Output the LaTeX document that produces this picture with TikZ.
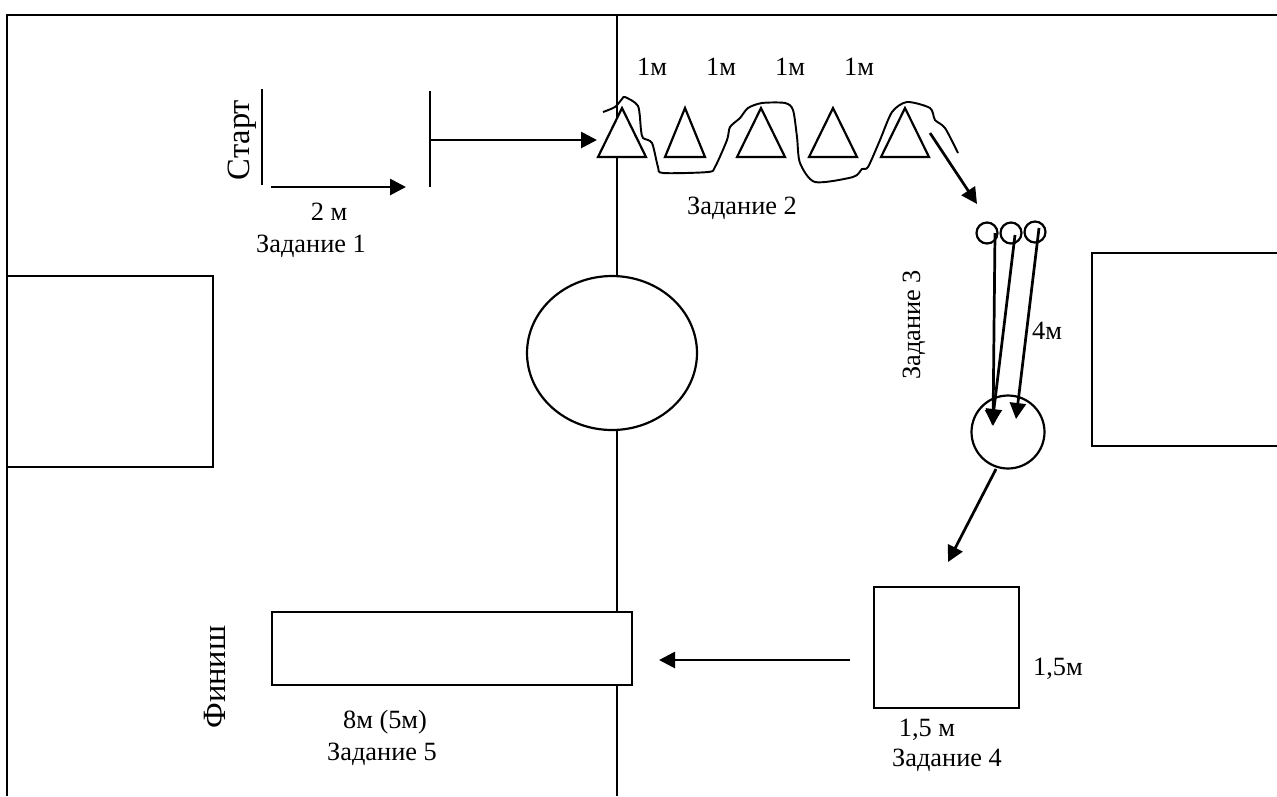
\documentclass[tikz,border=0pt]{standalone}
\usepackage{fontspec}
\setmainfont{Liberation Serif}
\usetikzlibrary{arrows.meta,shapes.geometric}

\begin{document}
\begin{tikzpicture}[
		x=0.02cm, y=-0.02cm,
		line width=1.25pt,
		label/.style={font=\fontsize{15}{17}\selectfont, inner sep=0pt},
		biglabel/.style={font=\fontsize{18.5}{21}\selectfont, inner sep=0pt, rotate=90},
		box/.style={draw, fill=white, inner sep=0pt, outer sep=0pt},
		disc/.style={draw, ellipse, fill=white, inner sep=0pt, outer sep=0pt},
		cone/.style={draw, fill=white, isosceles triangle, isosceles triangle stretches,
			shape border rotate=90, inner sep=0pt, outer sep=0pt, anchor=lower side},
		arrow/.style={line width=1.55pt, -{Triangle[length=0.32cm,width=0.32cm]}},
	]

	\useasboundingbox (0,0) rectangle (1277,796);

	% hall outline
	\coordinate (hallnw) at (7,15);
	\coordinate (hallsw) at (7,796);
	\coordinate (hallne) at (1277,15);
	\coordinate (midtop) at (617,15);
	\coordinate (midbottom) at (617,796);
	\draw (hallsw) -- (hallnw) -- (hallne);
	\draw (midtop) -- (midbottom);
	\draw (1277,253) -- (1092,253) -- (1092,446) -- (1277,446);

	% centre circle and boxes
	\node[disc, minimum width=3.4cm, minimum height=3.08cm] (circle) at (612,353) {};
	\node[box, minimum width=4.12cm, minimum height=3.82cm] (leftbox) at (110,371.5) {};
	\node[box, minimum width=7.2cm, minimum height=1.46cm] (finish) at (452,648.5) {};
	\node[box, minimum width=2.9cm, minimum height=2.42cm] (mat) at (946.5,647.5) {};

	% start lines
	\coordinate (starttop) at (262,89);
	\coordinate (startbottom) at (262,185);
	\coordinate (linetop) at (430,91);
	\coordinate (linebottom) at (430,187);
	\draw[line width=1pt] (starttop) -- (startbottom);
	\draw[line width=1pt] (linetop) -- (linebottom);

	% cones
	\node[cone, minimum width=0.96cm, minimum height=0.98cm] (cone1) at (622,157) {};
	\node[cone, minimum width=0.80cm, minimum height=0.98cm] (cone2) at (685,157) {};
	\node[cone, minimum width=0.96cm, minimum height=0.98cm] (cone3) at (761,157) {};
	\node[cone, minimum width=0.96cm, minimum height=0.98cm] (cone4) at (833,157) {};
	\node[cone, minimum width=0.96cm, minimum height=0.98cm] (cone5) at (905,157) {};

	% path round the cones
	\draw[line width=1.1pt] plot[smooth, tension=0.45] coordinates {
		(603,112) (615,107) (622,99) (625,97) (638,106) (641,130) (643,138) (652,143)
		(658,167) (663,173) (708,172) (715,167) (727,140) (730,127) (740,118) (748,108)
		(762,103) (785,103) (793,110) (797,137) (800,163) (815,182) (853,177) (862,169)
		(868,167) (880,140) (892,112) (907,102) (930,108) (935,120) (945,128) (958,153)};

	% balls and target
	\node[disc, minimum size=0.42cm] (ball1) at (987,233) {};
	\node[disc, minimum size=0.42cm] (ball2) at (1011,233) {};
	\node[disc, minimum size=0.42cm] (ball3) at (1035,232) {};
	\node[disc, minimum size=1.46cm] (target) at (1008,432) {};

	% free ends of the arrows
	\coordinate (run1) at (271,187);
	\coordinate (run2) at (406,187);
	\coordinate (linemid) at (430,140);
	\coordinate (conein) at (597,140);
	\coordinate (coneout) at (930,133);
	\coordinate (ballsin) at (977,204);
	\coordinate (throw1a) at (995,233);
	\coordinate (throw1b) at (993,426);
	\coordinate (throw2a) at (1015,235);
	\coordinate (throw2b) at (992,425);
	\coordinate (throw3a) at (1039,228);
	\coordinate (throw3b) at (1016,419);
	\coordinate (targetout) at (996,469);
	\coordinate (matin) at (948,562);
	\coordinate (matout) at (850,660);
	\coordinate (finishin) at (659,660);

	% arrows
	\draw[arrow] (run1) -- (run2);
	\draw[arrow] (linemid) -- (conein);
	\draw[arrow] (coneout) -- (ballsin);
	\draw[arrow] (throw1a) -- (throw1b);
	\draw[arrow] (throw2a) -- (throw2b);
	\draw[arrow] (throw3a) -- (throw3b);
	\draw[arrow] (targetout) -- (matin);
	\draw[arrow] (matout) -- (finishin);

	% labels
	\node[biglabel] (start) at (242,140) {Старт};
	\node[biglabel] (finishlabel) at (215,677) {Финиш};
	\node[label] (dist1) at (329,212) {2 м};
	\node[label] (task1) at (311,246) {Задание 1};
	\node[label] (gap1) at (652,67) {1м};
	\node[label] (gap2) at (721,67) {1м};
	\node[label] (gap3) at (790,67) {1м};
	\node[label] (gap4) at (859,67) {1м};
	\node[label] (task2) at (742,208) {Задание 2};
	\node[label, rotate=90] (task3) at (914,325) {Задание 3};
	\node[label] (dist3) at (1047,331) {4м};
	\node[label] (side1) at (1058,669) {1,5м};
	\node[label] (side2) at (927,730) {1,5 м};
	\node[label] (task4) at (947,760) {Задание 4};
	\node[label] (dist5) at (385,722) {8м (5м)};
	\node[label] (task5) at (382,754) {Задание 5};

\end{tikzpicture}
\end{document}
